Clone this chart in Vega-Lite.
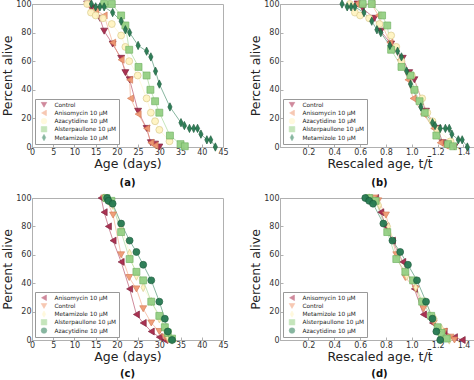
{
"$schema":"https://vega.github.io/schema/vega-lite/v6.json",
"padding":{"left":1,"top":-3,"right":0,"bottom":0},
"data":{"values":[
{"p":"a","d":"Control","x":13,"y":100},{"p":"a","d":"Control","x":14,"y":97},{"p":"a","d":"Control","x":16,"y":90},{"p":"a","d":"Control","x":17,"y":81},{"p":"a","d":"Control","x":19,"y":72},{"p":"a","d":"Control","x":21,"y":62},{"p":"a","d":"Control","x":22,"y":52},{"p":"a","d":"Control","x":23,"y":47},{"p":"a","d":"Control","x":25,"y":25},{"p":"a","d":"Control","x":27,"y":13},{"p":"a","d":"Control","x":28,"y":3},{"p":"a","d":"Control","x":29,"y":2},{"p":"a","d":"Control","x":30,"y":0},
{"p":"a","d":"Anisomycin","x":13,"y":100},{"p":"a","d":"Anisomycin","x":15,"y":96},{"p":"a","d":"Anisomycin","x":17,"y":92},{"p":"a","d":"Anisomycin","x":19,"y":73},{"p":"a","d":"Anisomycin","x":21,"y":61},{"p":"a","d":"Anisomycin","x":23,"y":47},{"p":"a","d":"Anisomycin","x":23.2,"y":34},{"p":"a","d":"Anisomycin","x":25,"y":23},{"p":"a","d":"Anisomycin","x":27,"y":13},{"p":"a","d":"Anisomycin","x":28,"y":3},{"p":"a","d":"Anisomycin","x":29,"y":1},
{"p":"a","d":"Azacytidine","x":13,"y":100},{"p":"a","d":"Azacytidine","x":13.9,"y":94},{"p":"a","d":"Azacytidine","x":15,"y":92},{"p":"a","d":"Azacytidine","x":16.7,"y":90},{"p":"a","d":"Azacytidine","x":18.8,"y":86},{"p":"a","d":"Azacytidine","x":21,"y":78},{"p":"a","d":"Azacytidine","x":22,"y":70},{"p":"a","d":"Azacytidine","x":22.9,"y":60},{"p":"a","d":"Azacytidine","x":24.9,"y":50},{"p":"a","d":"Azacytidine","x":27,"y":34},{"p":"a","d":"Azacytidine","x":28,"y":24},{"p":"a","d":"Azacytidine","x":29,"y":18},{"p":"a","d":"Azacytidine","x":30,"y":12},{"p":"a","d":"Azacytidine","x":32.4,"y":4},
{"p":"a","d":"Alsterpaullone","x":17,"y":100},{"p":"a","d":"Alsterpaullone","x":18.8,"y":100},{"p":"a","d":"Alsterpaullone","x":21,"y":92},{"p":"a","d":"Alsterpaullone","x":22,"y":85},{"p":"a","d":"Alsterpaullone","x":22.9,"y":68},{"p":"a","d":"Alsterpaullone","x":25.1,"y":56},{"p":"a","d":"Alsterpaullone","x":27,"y":50},{"p":"a","d":"Alsterpaullone","x":27.9,"y":40},{"p":"a","d":"Alsterpaullone","x":29,"y":32},{"p":"a","d":"Alsterpaullone","x":30,"y":24},{"p":"a","d":"Alsterpaullone","x":32.5,"y":8},{"p":"a","d":"Alsterpaullone","x":35,"y":2},{"p":"a","d":"Alsterpaullone","x":36,"y":0.5},
{"p":"a","d":"Metamizole","x":14,"y":100},{"p":"a","d":"Metamizole","x":15,"y":98},{"p":"a","d":"Metamizole","x":16,"y":98},{"p":"a","d":"Metamizole","x":17,"y":98},{"p":"a","d":"Metamizole","x":19,"y":94},{"p":"a","d":"Metamizole","x":21,"y":88},{"p":"a","d":"Metamizole","x":22,"y":82},{"p":"a","d":"Metamizole","x":23,"y":80},{"p":"a","d":"Metamizole","x":25,"y":71},{"p":"a","d":"Metamizole","x":27,"y":67},{"p":"a","d":"Metamizole","x":28,"y":63},{"p":"a","d":"Metamizole","x":29.1,"y":53},{"p":"a","d":"Metamizole","x":30,"y":44},{"p":"a","d":"Metamizole","x":32.5,"y":28},{"p":"a","d":"Metamizole","x":35.1,"y":17},{"p":"a","d":"Metamizole","x":35.9,"y":15},{"p":"a","d":"Metamizole","x":37.1,"y":13},{"p":"a","d":"Metamizole","x":38.1,"y":13},{"p":"a","d":"Metamizole","x":39,"y":13},{"p":"a","d":"Metamizole","x":39.8,"y":9},{"p":"a","d":"Metamizole","x":41.2,"y":5},{"p":"a","d":"Metamizole","x":42.1,"y":5},{"p":"a","d":"Metamizole","x":43.2,"y":0},
{"p":"b","d":"Control","x":0.58,"y":100},{"p":"b","d":"Control","x":0.62,"y":97},{"p":"b","d":"Control","x":0.71,"y":90},{"p":"b","d":"Control","x":0.76,"y":81},{"p":"b","d":"Control","x":0.84,"y":72},{"p":"b","d":"Control","x":0.93,"y":62},{"p":"b","d":"Control","x":0.98,"y":52},{"p":"b","d":"Control","x":1.02,"y":47},{"p":"b","d":"Control","x":1.11,"y":25},{"p":"b","d":"Control","x":1.2,"y":13},{"p":"b","d":"Control","x":1.24,"y":3},{"p":"b","d":"Control","x":1.29,"y":2},{"p":"b","d":"Control","x":1.33,"y":0},
{"p":"b","d":"Anisomycin","x":0.57,"y":100},{"p":"b","d":"Anisomycin","x":0.69,"y":100},{"p":"b","d":"Anisomycin","x":0.74,"y":92},{"p":"b","d":"Anisomycin","x":0.83,"y":73},{"p":"b","d":"Anisomycin","x":0.91,"y":61},{"p":"b","d":"Anisomycin","x":0.97,"y":47},{"p":"b","d":"Anisomycin","x":1.01,"y":34},{"p":"b","d":"Anisomycin","x":1.09,"y":23},{"p":"b","d":"Anisomycin","x":1.17,"y":13},{"p":"b","d":"Anisomycin","x":1.22,"y":3},{"p":"b","d":"Anisomycin","x":1.26,"y":1},
{"p":"b","d":"Azacytidine","x":0.52,"y":100},{"p":"b","d":"Azacytidine","x":0.56,"y":94},{"p":"b","d":"Azacytidine","x":0.6,"y":92},{"p":"b","d":"Azacytidine","x":0.67,"y":90},{"p":"b","d":"Azacytidine","x":0.75,"y":86},{"p":"b","d":"Azacytidine","x":0.84,"y":78},{"p":"b","d":"Azacytidine","x":0.88,"y":70},{"p":"b","d":"Azacytidine","x":0.92,"y":60},{"p":"b","d":"Azacytidine","x":1.0,"y":50},{"p":"b","d":"Azacytidine","x":1.08,"y":34},{"p":"b","d":"Azacytidine","x":1.12,"y":24},{"p":"b","d":"Azacytidine","x":1.16,"y":18},{"p":"b","d":"Azacytidine","x":1.2,"y":12},{"p":"b","d":"Azacytidine","x":1.3,"y":4},
{"p":"b","d":"Alsterpaullone","x":0.62,"y":100},{"p":"b","d":"Alsterpaullone","x":0.69,"y":100},{"p":"b","d":"Alsterpaullone","x":0.77,"y":92},{"p":"b","d":"Alsterpaullone","x":0.81,"y":85},{"p":"b","d":"Alsterpaullone","x":0.84,"y":68},{"p":"b","d":"Alsterpaullone","x":0.92,"y":56},{"p":"b","d":"Alsterpaullone","x":0.99,"y":50},{"p":"b","d":"Alsterpaullone","x":1.02,"y":40},{"p":"b","d":"Alsterpaullone","x":1.06,"y":32},{"p":"b","d":"Alsterpaullone","x":1.1,"y":24},{"p":"b","d":"Alsterpaullone","x":1.19,"y":8},{"p":"b","d":"Alsterpaullone","x":1.28,"y":2},{"p":"b","d":"Alsterpaullone","x":1.32,"y":0.5},
{"p":"b","d":"Metamizole","x":0.46,"y":100},{"p":"b","d":"Metamizole","x":0.5,"y":98},{"p":"b","d":"Metamizole","x":0.53,"y":98},{"p":"b","d":"Metamizole","x":0.56,"y":98},{"p":"b","d":"Metamizole","x":0.63,"y":94},{"p":"b","d":"Metamizole","x":0.69,"y":88},{"p":"b","d":"Metamizole","x":0.73,"y":82},{"p":"b","d":"Metamizole","x":0.76,"y":80},{"p":"b","d":"Metamizole","x":0.83,"y":71},{"p":"b","d":"Metamizole","x":0.89,"y":67},{"p":"b","d":"Metamizole","x":0.92,"y":63},{"p":"b","d":"Metamizole","x":0.96,"y":53},{"p":"b","d":"Metamizole","x":0.99,"y":44},{"p":"b","d":"Metamizole","x":1.07,"y":28},{"p":"b","d":"Metamizole","x":1.16,"y":17},{"p":"b","d":"Metamizole","x":1.18,"y":15},{"p":"b","d":"Metamizole","x":1.22,"y":13},{"p":"b","d":"Metamizole","x":1.26,"y":13},{"p":"b","d":"Metamizole","x":1.29,"y":13},{"p":"b","d":"Metamizole","x":1.31,"y":9},{"p":"b","d":"Metamizole","x":1.36,"y":5},{"p":"b","d":"Metamizole","x":1.39,"y":5},{"p":"b","d":"Metamizole","x":1.43,"y":0},
{"p":"c","d":"Anisomycin","x":16.3,"y":100},{"p":"c","d":"Anisomycin","x":17,"y":90},{"p":"c","d":"Anisomycin","x":18,"y":80},{"p":"c","d":"Anisomycin","x":19.1,"y":70},{"p":"c","d":"Anisomycin","x":21,"y":55},{"p":"c","d":"Anisomycin","x":23,"y":36},{"p":"c","d":"Anisomycin","x":24.6,"y":18},{"p":"c","d":"Anisomycin","x":26.2,"y":12},{"p":"c","d":"Anisomycin","x":28.1,"y":6},{"p":"c","d":"Anisomycin","x":30,"y":2},{"p":"c","d":"Anisomycin","x":31.3,"y":0},
{"p":"c","d":"Control","x":17,"y":100},{"p":"c","d":"Control","x":17.7,"y":98},{"p":"c","d":"Control","x":19.1,"y":88},{"p":"c","d":"Control","x":21,"y":60},{"p":"c","d":"Control","x":22.9,"y":44},{"p":"c","d":"Control","x":24.6,"y":36},{"p":"c","d":"Control","x":26.2,"y":22},{"p":"c","d":"Control","x":28.1,"y":12},{"p":"c","d":"Control","x":30,"y":6},{"p":"c","d":"Control","x":31.3,"y":2},{"p":"c","d":"Control","x":32,"y":0},
{"p":"c","d":"Metamizole","x":17,"y":100},{"p":"c","d":"Metamizole","x":18,"y":98},{"p":"c","d":"Metamizole","x":19,"y":95},{"p":"c","d":"Metamizole","x":21,"y":80},{"p":"c","d":"Metamizole","x":23,"y":61},{"p":"c","d":"Metamizole","x":24.6,"y":45},{"p":"c","d":"Metamizole","x":26.2,"y":37},{"p":"c","d":"Metamizole","x":28.1,"y":27},{"p":"c","d":"Metamizole","x":30,"y":15},{"p":"c","d":"Metamizole","x":31.3,"y":8},{"p":"c","d":"Metamizole","x":32,"y":2},{"p":"c","d":"Metamizole","x":33,"y":0},
{"p":"c","d":"Alsterpaullone","x":17.5,"y":100},{"p":"c","d":"Alsterpaullone","x":18.7,"y":98},{"p":"c","d":"Alsterpaullone","x":21,"y":76},{"p":"c","d":"Alsterpaullone","x":23,"y":57},{"p":"c","d":"Alsterpaullone","x":24.6,"y":48},{"p":"c","d":"Alsterpaullone","x":26.2,"y":42},{"p":"c","d":"Alsterpaullone","x":28.1,"y":27},{"p":"c","d":"Alsterpaullone","x":30,"y":17},{"p":"c","d":"Alsterpaullone","x":31.3,"y":9},{"p":"c","d":"Alsterpaullone","x":32,"y":5},{"p":"c","d":"Alsterpaullone","x":33,"y":1},
{"p":"c","d":"Azacytidine","x":17.7,"y":100},{"p":"c","d":"Azacytidine","x":18,"y":98},{"p":"c","d":"Azacytidine","x":19,"y":96},{"p":"c","d":"Azacytidine","x":21,"y":82},{"p":"c","d":"Azacytidine","x":23,"y":70},{"p":"c","d":"Azacytidine","x":24.6,"y":62},{"p":"c","d":"Azacytidine","x":26.2,"y":53},{"p":"c","d":"Azacytidine","x":28.1,"y":42},{"p":"c","d":"Azacytidine","x":30,"y":27},{"p":"c","d":"Azacytidine","x":31.3,"y":15},{"p":"c","d":"Azacytidine","x":32,"y":6},{"p":"c","d":"Azacytidine","x":33,"y":0},
{"p":"d","d":"Anisomycin","x":0.72,"y":100},{"p":"d","d":"Anisomycin","x":0.76,"y":90},{"p":"d","d":"Anisomycin","x":0.8,"y":80},{"p":"d","d":"Anisomycin","x":0.85,"y":70},{"p":"d","d":"Anisomycin","x":0.93,"y":55},{"p":"d","d":"Anisomycin","x":1.02,"y":36},{"p":"d","d":"Anisomycin","x":1.09,"y":18},{"p":"d","d":"Anisomycin","x":1.16,"y":12},{"p":"d","d":"Anisomycin","x":1.25,"y":6},{"p":"d","d":"Anisomycin","x":1.33,"y":2},{"p":"d","d":"Anisomycin","x":1.39,"y":0},
{"p":"d","d":"Control","x":0.71,"y":100},{"p":"d","d":"Control","x":0.74,"y":98},{"p":"d","d":"Control","x":0.8,"y":88},{"p":"d","d":"Control","x":0.88,"y":60},{"p":"d","d":"Control","x":0.95,"y":44},{"p":"d","d":"Control","x":1.03,"y":36},{"p":"d","d":"Control","x":1.09,"y":22},{"p":"d","d":"Control","x":1.17,"y":12},{"p":"d","d":"Control","x":1.25,"y":6},{"p":"d","d":"Control","x":1.3,"y":2},{"p":"d","d":"Control","x":1.33,"y":0},
{"p":"d","d":"Metamizole","x":0.67,"y":100},{"p":"d","d":"Metamizole","x":0.71,"y":98},{"p":"d","d":"Metamizole","x":0.75,"y":95},{"p":"d","d":"Metamizole","x":0.82,"y":80},{"p":"d","d":"Metamizole","x":0.9,"y":61},{"p":"d","d":"Metamizole","x":0.96,"y":45},{"p":"d","d":"Metamizole","x":1.03,"y":37},{"p":"d","d":"Metamizole","x":1.1,"y":27},{"p":"d","d":"Metamizole","x":1.18,"y":15},{"p":"d","d":"Metamizole","x":1.23,"y":8},{"p":"d","d":"Metamizole","x":1.25,"y":2},{"p":"d","d":"Metamizole","x":1.29,"y":0},
{"p":"d","d":"Alsterpaullone","x":0.67,"y":100},{"p":"d","d":"Alsterpaullone","x":0.72,"y":98},{"p":"d","d":"Alsterpaullone","x":0.81,"y":76},{"p":"d","d":"Alsterpaullone","x":0.88,"y":57},{"p":"d","d":"Alsterpaullone","x":0.95,"y":48},{"p":"d","d":"Alsterpaullone","x":1.01,"y":42},{"p":"d","d":"Alsterpaullone","x":1.08,"y":27},{"p":"d","d":"Alsterpaullone","x":1.15,"y":17},{"p":"d","d":"Alsterpaullone","x":1.2,"y":9},{"p":"d","d":"Alsterpaullone","x":1.23,"y":5},{"p":"d","d":"Alsterpaullone","x":1.27,"y":1},
{"p":"d","d":"Azacytidine","x":0.64,"y":100},{"p":"d","d":"Azacytidine","x":0.67,"y":98},{"p":"d","d":"Azacytidine","x":0.7,"y":96},{"p":"d","d":"Azacytidine","x":0.78,"y":82},{"p":"d","d":"Azacytidine","x":0.85,"y":70},{"p":"d","d":"Azacytidine","x":0.91,"y":62},{"p":"d","d":"Azacytidine","x":0.97,"y":53},{"p":"d","d":"Azacytidine","x":1.04,"y":42},{"p":"d","d":"Azacytidine","x":1.11,"y":27},{"p":"d","d":"Azacytidine","x":1.16,"y":15},{"p":"d","d":"Azacytidine","x":1.19,"y":6},{"p":"d","d":"Azacytidine","x":1.22,"y":0}
]},
"config":{
 "font":"DejaVu Sans",
 "view":{"stroke":"#b0b0b0","strokeWidth":1},
 "axis":{"grid":false,"labelFont":"DejaVu Sans","labelFontSize":8,"labelColor":"#333","labelFlush":false,"labelOverlap":false,"titleFont":"DejaVu Sans","titleFontSize":12.5,"titleFontWeight":"normal","titleColor":"#222","domainColor":"#b0b0b0","tickColor":"#b0b0b0","tickSize":-3,"labelPadding":4,"titlePadding":1},
 "legend":{"orient":"bottom-left","offset":3,"padding":2.5,"fillColor":"white","strokeColor":"#999","cornerRadius":0,"labelFont":"DejaVu Sans","labelFontSize":5.8,"labelColor":"#222","symbolSize":32,"rowPadding":1.2,"clipHeight":6.5,"labelLimit":200,"symbolStrokeWidth":0.6,"symbolOffset":3,"labelOffset":7},
 "title":{"font":"DejaVu Sans","fontSize":10,"fontWeight":"bold","orient":"bottom","frame":"group","anchor":"middle","offset":8,"color":"#111"},
 "point":{"filled":true}
},
"spacing":3,
"resolve":{"scale":{"color":"independent","shape":"independent","stroke":"independent"}},
"vconcat":[
{"hconcat":[
 {"width":191,"height":143,"title":"(a)","transform":[{"filter":"datum.p=='a'"}],
  "encoding":{
   "x":{"field":"x","type":"quantitative","scale":{"domain":[0,45],"nice":false,"zero":false},"axis":{"title":"Age (days)","values":[0,5,10,15,20,25,30,35,40,45]}},
   "y":{"field":"y","type":"quantitative","scale":{"domain":[0,100],"nice":false},"axis":{"title":"Percent alive","values":[0,20,40,60,80,100]}},
   "color":{"field":"d","type":"nominal","scale":{"domain":["Control","Anisomycin","Azacytidine","Alsterpaullone","Metamizole"],"range":["#a8294b","#f09b74","#fff4c2","#95d084","#267a52"]},"legend":{"title":null,"labelExpr":"datum.label=='Control'?'Control':datum.label+' 10 μM'"}}},
  "layer":[
   {"mark":{"type":"line","strokeWidth":1,"opacity":0.55}},
   {"mark":{"type":"point","filled":true,"size":48,"opacity":0.95,"strokeWidth":0.7},
    "encoding":{"shape":{"field":"d","type":"nominal","scale":{"domain":["Control","Anisomycin","Azacytidine","Alsterpaullone","Metamizole"],"range":["triangle-down","triangle-left","circle","square","M0,-1.2L0.6,0L0,1.2L-0.6,0Z"]},"legend":{"title":null}},
     "stroke":{"field":"d","type":"nominal","scale":{"domain":["Control","Anisomycin","Azacytidine","Alsterpaullone","Metamizole"],"range":["#7a1a35","#d47a55","#d8c88a","#6fb060","#1a5a3a"]},"legend":null}}}
  ]},
 {"width":199,"height":143,"title":"(b)","transform":[{"filter":"datum.p=='b'"}],
  "encoding":{
   "x":{"field":"x","type":"quantitative","scale":{"domain":[-0.02,1.52],"nice":false,"zero":false},"axis":{"title":"Rescaled age, t/t̄","values":[0.2,0.4,0.6,0.8,1.0,1.2,1.4],"format":".1f"}},
   "y":{"field":"y","type":"quantitative","scale":{"domain":[0,100],"nice":false},"axis":{"title":"Percent alive","values":[0,20,40,60,80,100]}},
   "color":{"field":"d","type":"nominal","scale":{"domain":["Control","Anisomycin","Azacytidine","Alsterpaullone","Metamizole"],"range":["#a8294b","#f09b74","#fff4c2","#95d084","#267a52"]},"legend":{"title":null,"labelExpr":"datum.label=='Control'?'Control':datum.label+' 10 μM'"}}},
  "layer":[
   {"mark":{"type":"line","strokeWidth":1,"opacity":0.55}},
   {"mark":{"type":"point","filled":true,"size":48,"opacity":0.95,"strokeWidth":0.7},
    "encoding":{"shape":{"field":"d","type":"nominal","scale":{"domain":["Control","Anisomycin","Azacytidine","Alsterpaullone","Metamizole"],"range":["triangle-down","triangle-left","circle","square","M0,-1.2L0.6,0L0,1.2L-0.6,0Z"]},"legend":{"title":null}},
     "stroke":{"field":"d","type":"nominal","scale":{"domain":["Control","Anisomycin","Azacytidine","Alsterpaullone","Metamizole"],"range":["#7a1a35","#d47a55","#d8c88a","#6fb060","#1a5a3a"]},"legend":null}}}
  ]}
 ],"spacing":20,"resolve":{"scale":{"color":"independent","shape":"independent","stroke":"independent"}}},
{"hconcat":[
 {"width":191,"height":142,"title":{"text":"(c)","offset":6},"transform":[{"filter":"datum.p=='c'"}],
  "encoding":{
   "x":{"field":"x","type":"quantitative","scale":{"domain":[0,45],"nice":false,"zero":false},"axis":{"title":"Age (days)","values":[0,5,10,15,20,25,30,35,40,45]}},
   "y":{"field":"y","type":"quantitative","scale":{"domain":[0,100],"nice":false},"axis":{"title":"Percent alive","values":[0,20,40,60,80,100]}},
   "color":{"field":"d","type":"nominal","scale":{"domain":["Anisomycin","Control","Metamizole","Alsterpaullone","Azacytidine"],"range":["#a8294b","#f09b74","#fff4c2","#95d084","#267a52"]},"legend":{"title":null,"labelExpr":"datum.label=='Control'?'Control':datum.label+' 10 μM'"}}},
  "layer":[
   {"mark":{"type":"line","strokeWidth":1,"opacity":0.55}},
   {"mark":{"type":"point","filled":true,"size":48,"opacity":0.95,"strokeWidth":0.7},
    "encoding":{"shape":{"field":"d","type":"nominal","scale":{"domain":["Anisomycin","Control","Metamizole","Alsterpaullone","Azacytidine"],"range":["triangle-left","triangle-down","M0,-1.2L0.6,0L0,1.2L-0.6,0Z","square","circle"]},"legend":{"title":null}},
     "stroke":{"field":"d","type":"nominal","scale":{"domain":["Anisomycin","Control","Metamizole","Alsterpaullone","Azacytidine"],"range":["#7a1a35","#d47a55","#d8c88a","#6fb060","#1a5a3a"]},"legend":null}}}
  ]},
 {"width":199,"height":142,"title":{"text":"(d)","offset":6},"transform":[{"filter":"datum.p=='d'"}],
  "encoding":{
   "x":{"field":"x","type":"quantitative","scale":{"domain":[-0.02,1.52],"nice":false,"zero":false},"axis":{"title":"Rescaled age, t/t̄","values":[0.2,0.4,0.6,0.8,1.0,1.2,1.4],"format":".1f"}},
   "y":{"field":"y","type":"quantitative","scale":{"domain":[0,100],"nice":false},"axis":{"title":"Percent alive","values":[0,20,40,60,80,100]}},
   "color":{"field":"d","type":"nominal","scale":{"domain":["Anisomycin","Control","Metamizole","Alsterpaullone","Azacytidine"],"range":["#a8294b","#f09b74","#fff4c2","#95d084","#267a52"]},"legend":{"title":null,"labelExpr":"datum.label=='Control'?'Control':datum.label+' 10 μM'"}}},
  "layer":[
   {"mark":{"type":"line","strokeWidth":1,"opacity":0.55}},
   {"mark":{"type":"point","filled":true,"size":48,"opacity":0.95,"strokeWidth":0.7},
    "encoding":{"shape":{"field":"d","type":"nominal","scale":{"domain":["Anisomycin","Control","Metamizole","Alsterpaullone","Azacytidine"],"range":["triangle-left","triangle-down","M0,-1.2L0.6,0L0,1.2L-0.6,0Z","square","circle"]},"legend":{"title":null}},
     "stroke":{"field":"d","type":"nominal","scale":{"domain":["Anisomycin","Control","Metamizole","Alsterpaullone","Azacytidine"],"range":["#7a1a35","#d47a55","#d8c88a","#6fb060","#1a5a3a"]},"legend":null}}}
  ]}
 ],"spacing":20,"resolve":{"scale":{"color":"independent","shape":"independent","stroke":"independent"}}}
]
}
